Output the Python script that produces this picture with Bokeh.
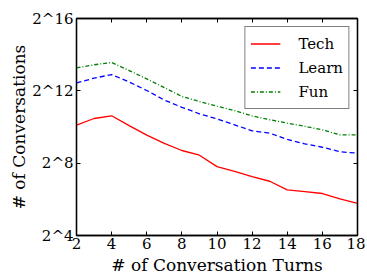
from bokeh.plotting import figure
from bokeh.models import (FixedTicker, CustomJSTickFormatter, LinearAxis, LogAxis,
                          Legend, LegendItem, Range1d)
from bokeh.embed import file_html
from bokeh.resources import INLINE

# ---- data ----
turns = [2, 3, 4, 5, 6, 7, 8, 9, 10, 11, 12, 13, 14, 15, 16, 17, 18]
tech = [1097, 1418, 1574, 1082, 750, 545, 416, 347, 224, 187, 153, 128, 92, 86, 80, 65, 55]
learn = [5558, 6654, 7643, 5751, 4153, 2876, 2180, 1699, 1399, 1113, 885, 809, 635, 538, 471, 396, 375]
fun = [9880, 11116, 12160, 8903, 6472, 4641, 3304, 2722, 2273, 1924, 1563, 1352, 1185, 1053, 917, 760, 760]
series_names = ["Tech", "Learn", "Fun"]
x_ticks = [2, 4, 6, 8, 10, 12, 14, 16, 18]
y_ticks = [16, 256, 4096, 65536]
x_label = "# of Conversation Turns"
y_label = "# of Conversations"

FONT = "DejaVu Serif"

p = figure(frame_width=281, frame_height=217,
           x_range=Range1d(2, 18), y_range=Range1d(16, 65536),
           y_axis_type="log", output_backend="svg", toolbar_location=None,
           min_border_left=76, min_border_top=18, min_border_right=8,
           min_border_bottom=40)
p.background_fill_color = "white"
p.border_fill_color = "white"
p.outline_line_color = "black"
p.outline_line_width = 1.3
p.grid.visible = False

ylab_fmt = CustomJSTickFormatter(code="return '2^' + Math.round(Math.log2(tick));")

def style_axis(ax):
    ax.axis_line_color = "black"
    ax.axis_line_width = 1.3
    ax.major_tick_in = 4
    ax.major_tick_out = 0
    ax.minor_tick_in = 0
    ax.minor_tick_out = 0
    ax.major_tick_line_color = "black"
    ax.major_label_text_font = FONT
    ax.major_label_text_font_size = "15px"
    ax.major_label_text_color = "black"
    ax.axis_label_text_font = FONT
    ax.axis_label_text_font_size = "17px"
    ax.axis_label_text_font_style = "normal"
    ax.axis_label_text_color = "black"

xa = p.xaxis[0]
xa.ticker = FixedTicker(ticks=x_ticks)
xa.axis_label = x_label
style_axis(xa)
xa.major_label_standoff = 2
xa.axis_label_standoff = 3

ya = p.yaxis[0]
ya.ticker = FixedTicker(ticks=y_ticks)
ya.formatter = ylab_fmt
ya.axis_label = y_label
style_axis(ya)
ya.major_label_standoff = 3
ya.axis_label_standoff = 0

blank = CustomJSTickFormatter(code="return '';")
top = LinearAxis(ticker=FixedTicker(ticks=x_ticks), formatter=blank)
style_axis(top)
top.major_label_standoff = 0
p.add_layout(top, "above")
right = LogAxis(ticker=FixedTicker(ticks=y_ticks), formatter=blank)
style_axis(right)
right.major_label_standoff = 0
p.add_layout(right, "right")

r1 = p.line(turns, tech, line_color="#ff0000", line_width=1.3)
r2 = p.line(turns, learn, line_color="#0000ff", line_width=1.3, line_dash="5 3")
r3 = p.line(turns, fun, line_color="#008000", line_width=1.3, line_dash="4 2 1 2")

legend = Legend(items=[LegendItem(label=series_names[0], renderers=[r1]),
                       LegendItem(label=series_names[1], renderers=[r2]),
                       LegendItem(label=series_names[2], renderers=[r3])],
                location="top_right")
legend.label_text_font = FONT
legend.label_text_font_size = "15px"
legend.label_text_color = "black"
legend.border_line_color = "black"
legend.border_line_width = 1
legend.background_fill_alpha = 1
legend.padding = 5
legend.margin = 8
legend.spacing = 1
legend.label_height = 23
legend.glyph_height = 23
legend.glyph_width = 30
legend.label_standoff = 18
p.add_layout(legend, "center")

open("out.html", "w").write(file_html(p, INLINE))
